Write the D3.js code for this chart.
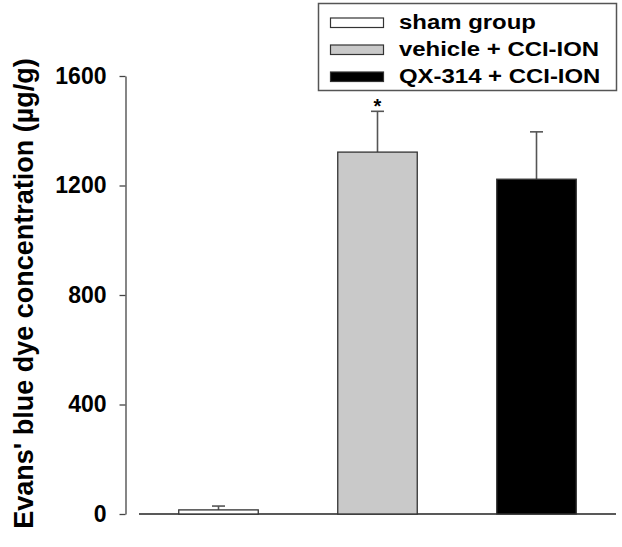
<!DOCTYPE html>
<html>
<head>
	<title>index</title>
	<meta charset="UTF-8">
	<script src="https://d3js.org/d3.v7.min.js" charset="utf-8"></script>
	<style>
		body {
			margin: 0;
			background: white;
		}
		svg {
			display: block;
			font-family: "Liberation Sans", Arial, sans-serif;
			font-weight: bold;
		}
	</style>
</head>
<body>
<script>
		// values
		var groups = ["sham group", "vehicle + CCI-ION", "QX-314 + CCI-ION"];
		var means = [15, 1322, 1223];
		var errors = [14, 149, 173];
		var marks = ["", "*", ""];
		var yTicks = [0, 400, 800, 1200, 1600];
		var yTitle = "Evans' blue dye concentration (\u00b5g/g)";
		var fills = ["#ffffff", "#c9c9c9", "#000000"];

		var width = 622, height = 547;
		var svg = d3.select("body").append("svg").attr("width", width).attr("height", height);

		var y = d3.scaleLinear().domain([0, 1600]).range([514, 76]);
		var x = d3.scaleBand().domain(groups).range([139, 616]).paddingInner(0.5).paddingOuter(0.25);

		drawAxes();
		drawBars();
		drawLegend();

		function drawAxes() {
			var axis = svg.append("g")
				.attr("transform", "translate(125.5,0)")
				.call(d3.axisLeft(y).tickValues(yTicks).tickFormat(d3.format("d"))
					.tickSize(6).tickSizeOuter(0).tickPadding(13));
			axis.select(".domain").attr("stroke", "#444").attr("stroke-width", 1.3);
			axis.selectAll(".tick line").attr("stroke", "#444").attr("stroke-width", 1.3);
			axis.selectAll(".tick text")
				.attr("fill", "#000")
				.style("font-size", "23px")
				.style("font-family", "'Liberation Sans', Arial, sans-serif")
				.style("font-weight", "bold");

			// x baseline (no ticks)
			svg.append("line")
				.attr("x1", x.range()[0]).attr("x2", x.range()[1])
				.attr("y1", y(0)).attr("y2", y(0))
				.attr("stroke", "#222").attr("stroke-width", 1.3);

			svg.append("text")
				.attr("transform", "translate(33,293.5) rotate(-90)")
				.attr("text-anchor", "middle")
				.style("font-size", "27px")
				.text(yTitle);
		} // drawAxes

		function drawBars() {
			var capHalf = 6.5;
			for (var i = 0; i < groups.length; i++) {
				var g = groups[i];
				var cx = x(g) + x.bandwidth() / 2;
				var top = means[i] + errors[i];

				// error bar goes up only
				svg.append("line")
					.attr("x1", cx).attr("x2", cx)
					.attr("y1", y(means[i])).attr("y2", y(top))
					.attr("stroke", "#555").attr("stroke-width", 1.6);
				svg.append("line")
					.attr("x1", cx - capHalf).attr("x2", cx + capHalf)
					.attr("y1", y(top)).attr("y2", y(top))
					.attr("stroke", "#555").attr("stroke-width", 1.6);

				svg.append("rect")
					.attr("x", x(g)).attr("y", y(means[i]))
					.attr("width", x.bandwidth()).attr("height", y(0) - y(means[i]))
					.attr("fill", fills[i]).attr("stroke", "#333").attr("stroke-width", 1.3);

				if (marks[i] != "") {
					svg.append("text")
						.attr("x", cx).attr("y", y(top) + 2)
						.attr("text-anchor", "middle")
						.style("font-size", "20px")
						.text(marks[i]);
				}
			}
		} // drawBars

		function drawLegend() {
			svg.append("rect")
				.attr("x", 318.5).attr("y", 3.5).attr("width", 298).attr("height", 87)
				.attr("fill", "white").attr("stroke", "#555").attr("stroke-width", 1.5);
			for (var i = 0; i < groups.length; i++) {
				var base = 29 + i * 27;
				svg.append("rect")
					.attr("x", 330.5).attr("y", base - 11).attr("width", 53).attr("height", 9.5)
					.attr("fill", fills[i]).attr("stroke", "#333").attr("stroke-width", 1.2);
				svg.append("text")
					.attr("transform", "translate(399," + base + ") scale(1.14,1)")
					.style("font-size", "21px")
					.text(groups[i]);
			}
		} // drawLegend
</script>
</body>
</html>
